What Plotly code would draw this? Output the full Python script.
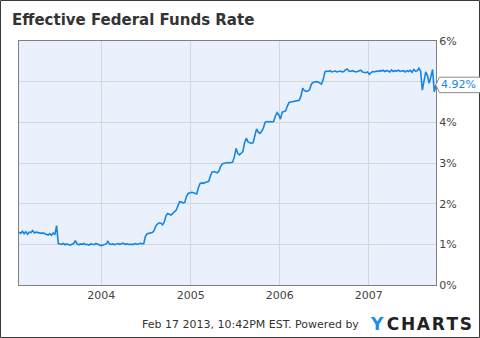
import pandas as pd
import plotly.graph_objects as go

# Weekly effective federal funds rate (%), Wednesday observations
rate_2003 = [1.30, 1.27, 1.32, 1.26, 1.31, 1.25, 1.30, 1.29, 1.34, 1.28, 1.30,
             1.29, 1.28, 1.27, 1.28, 1.26, 1.25, 1.23, 1.26, 1.22, 1.28, 1.24,
             1.46,
             1.02, 1.01, 1.00, 1.02, 0.99, 1.01, 1.00, 0.98, 1.00, 1.02, 1.09,
             1.01, 0.99, 1.01, 1.00, 1.02, 0.99, 1.00, 0.98, 1.01, 1.00, 0.99,
             1.02, 1.00, 0.98, 0.97]
rate_2004 = [0.98, 1.00, 1.01, 1.07, 1.01, 1.00, 1.01, 0.99, 1.00, 1.02, 1.00,
             1.01, 1.03, 1.00, 1.01, 1.00, 1.00, 1.01, 1.00, 1.02, 1.00, 1.01,
             1.03, 1.01, 1.02,
             1.20, 1.26, 1.27, 1.28, 1.29, 1.33, 1.45, 1.50, 1.53, 1.52, 1.48,
             1.55, 1.70, 1.76, 1.73, 1.72, 1.76, 1.80, 1.84, 1.95, 2.05, 2.04,
             2.02, 2.03, 2.18, 2.25, 2.27]
rate_2005 = [2.28, 2.27, 2.25, 2.24, 2.40, 2.50, 2.51, 2.50, 2.52, 2.53, 2.55,
             2.68, 2.78, 2.79, 2.77, 2.76, 2.80, 2.92, 2.98, 3.00, 3.00, 3.01,
             3.00, 3.01, 3.02, 3.15, 3.36, 3.24, 3.20, 3.24, 3.28, 3.50, 3.61,
             3.52, 3.50, 3.48, 3.50, 3.70, 3.84, 3.76, 3.73, 3.78, 3.86, 4.00,
             4.02, 4.01, 4.02, 4.01, 4.02, 4.15, 4.24, 4.18]
rate_2006 = [4.08, 4.25, 4.27, 4.28, 4.40, 4.49, 4.50, 4.51, 4.52, 4.53, 4.53,
             4.54, 4.65, 4.84, 4.78, 4.76, 4.77, 4.80, 4.93, 4.98, 4.99, 5.00,
             4.99, 4.96, 4.94, 5.05, 5.24, 5.26, 5.25, 5.27, 5.24, 5.25, 5.26,
             5.24, 5.25, 5.26, 5.24, 5.25, 5.29, 5.31, 5.26, 5.25, 5.27, 5.26,
             5.24, 5.25, 5.27, 5.28, 5.24, 5.23, 5.22, 5.24]
rate_2007 = [5.18, 5.22, 5.25, 5.24, 5.26, 5.25, 5.27, 5.26, 5.28, 5.25, 5.27,
             5.26, 5.24, 5.29, 5.25, 5.27, 5.26, 5.28, 5.25, 5.26, 5.27, 5.24,
             5.27, 5.25, 5.28, 5.23, 5.30, 5.26, 5.27, 5.33,
             5.26, 4.79, 5.02, 5.24, 5.15, 4.96, 5.12, 5.30, 4.75, 4.92]

rates = rate_2003 + rate_2004 + rate_2005 + rate_2006 + rate_2007
dates = pd.date_range("2003-01-29", periods=len(rates), freq="W-WED")

year_ticks = ["2004-01-01", "2005-01-01", "2006-01-01", "2007-01-01"]
year_labels = ["2004", "2005", "2006", "2007"]
pct_ticks = [0, 1, 2, 3, 4, 5, 6]
# the 5% label sits under the last-value flag, so it is left blank
pct_labels = ["0%", "1%", "2%", "3%", "4%", "", "6%"]

last_value = rates[-1]
title_text = "Effective Federal Funds Rate"
footer_text = "Feb 17 2013, 10:42PM EST. Powered by"

LINE_BLUE = "#1686e6"
FONT = "DejaVu Sans"

fig = go.Figure(go.Scatter(
    x=dates, y=rates, mode="lines",
    line=dict(color=LINE_BLUE, width=1.6),
    hoverinfo="skip", showlegend=False,
))

W, H = 480, 338
ml, mr, mt, mb = 19, 44, 41, 53
pw, ph = W - ml - mr, H - mt - mb


def px_x(px):
    return (px - ml) / pw


def px_y(py):
    return (H - mb - py) / ph


fig.update_layout(
    width=W, height=H,
    margin=dict(l=ml, r=mr, t=mt, b=mb, pad=0),
    paper_bgcolor="white",
    plot_bgcolor="#eaf0fc",
    font=dict(family=FONT, size=11, color="#444"),
    xaxis=dict(
        range=[dates[0], dates[-1]],
        tickvals=year_ticks, ticktext=year_labels,
        showgrid=True, gridcolor="#d6d6d6", gridwidth=1,
        showline=True, linecolor="#7f7f7f", linewidth=1, mirror=True,
        ticks="", zeroline=False,
        tickfont=dict(family=FONT, size=11, color="#444"),
    ),
    yaxis=dict(
        range=[0, 6], side="right",
        tickvals=pct_ticks, ticktext=pct_labels,
        showgrid=True, gridcolor="#d6d6d6", gridwidth=1,
        showline=True, linecolor="#7f7f7f", linewidth=1, mirror=True,
        ticks="", zeroline=False,
        tickfont=dict(family=FONT, size=11, color="#444"),
    ),
)

# Outer frame around the whole figure
fig.add_shape(
    type="rect", xref="paper", yref="paper",
    x0=px_x(0.5), x1=px_x(W - 0.5), y0=px_y(H - 0.5), y1=px_y(0.5),
    line=dict(color="#3a3a3a", width=1), fillcolor="rgba(0,0,0,0)",
    layer="above",
)

# Last-value flag on the right axis
half = 0.19
xa, xb, xc = px_x(435.8), px_x(439.5), px_x(481)
flag_path = (f"M {xa},{last_value} L {xb},{last_value + half} "
             f"L {xc},{last_value + half} L {xc},{last_value - half} "
             f"L {xb},{last_value - half} Z")
fig.add_shape(
    type="path", xref="paper", yref="y", path=flag_path,
    line=dict(color="#8a8a8a", width=1), fillcolor="white", layer="above",
)
fig.add_annotation(
    x=px_x(438.5), y=last_value, xref="paper", yref="y",
    xanchor="left", yanchor="middle", showarrow=False,
    text=f"{last_value:.2f}%",
    font=dict(family=FONT, size=11, color=LINE_BLUE),
)

# Title
fig.add_annotation(
    x=px_x(10), y=px_y(20.5), xref="paper", yref="paper",
    xanchor="left", yanchor="middle", showarrow=False,
    text=f"<b>{title_text}</b>",
    font=dict(family=FONT, size=15, color="#333"),
)

# Footer timestamp and logo
fig.add_annotation(
    x=px_x(139.5), y=px_y(324.5), xref="paper", yref="paper",
    xanchor="left", yanchor="middle", showarrow=False,
    text=footer_text,
    font=dict(family=FONT, size=11, color="#333"),
)
logo_letters = "\u200a".join("CHARTS")
fig.add_annotation(
    x=px_x(368), y=px_y(323.5), xref="paper", yref="paper",
    xanchor="left", yanchor="middle", showarrow=False,
    text=f"<b><span style='color:#1a8fe6'>Y</span>\u2009{logo_letters}</b>",
    font=dict(family=FONT, size=17, color="#222"),
)

fig.write_html("out.html", config={"displayModeBar": False})
